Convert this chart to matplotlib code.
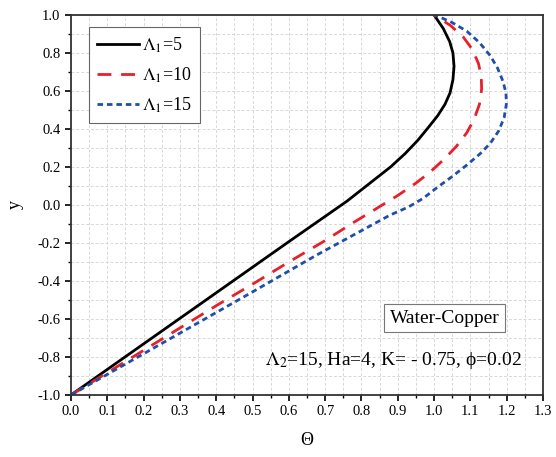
import numpy as np
import matplotlib
matplotlib.use('Agg')
import matplotlib.pyplot as plt
from matplotlib.ticker import MultipleLocator

plt.rcParams['font.family'] = ['Liberation Serif', 'DejaVu Serif']
plt.rcParams['mathtext.fontset'] = 'stix'

# curve values (Theta, y)
theta_5 = [0.0, 0.2, 0.383, 0.493, 0.6, 0.7, 0.76, 0.80, 0.84, 0.88, 0.92, 0.955,
           0.985, 1.01, 1.03, 1.044, 1.052, 1.055, 1.052, 1.043, 1.025, 1.0]
y_5 = [-1.0, -0.731, -0.485, -0.337, -0.193, -0.06, 0.02, 0.08, 0.14, 0.20, 0.27, 0.34,
       0.41, 0.47, 0.53, 0.59, 0.66, 0.73, 0.80, 0.86, 0.93, 1.0]

theta_10 = [0.0, 0.2, 0.4, 0.511, 0.6, 0.695, 0.78, 0.842, 0.90, 0.95, 0.99, 1.03,
            1.062, 1.09, 1.11, 1.125, 1.131, 1.13, 1.122, 1.105, 1.08, 1.045, 1.0]
y_10 = [-1.0, -0.765, -0.53, -0.404, -0.30, -0.193, -0.09, -0.018, 0.05, 0.115, 0.175, 0.245,
        0.31, 0.38, 0.45, 0.53, 0.61, 0.68, 0.746, 0.82, 0.885, 0.945, 1.0]

theta_15 = [0.0, 0.2, 0.493, 0.677, 0.879, 0.93, 0.97, 1.007, 1.05, 1.09, 1.127, 1.155,
            1.178, 1.193, 1.199, 1.198, 1.19, 1.175, 1.155, 1.125, 1.09, 1.05, 1.003]
y_15 = [-1.0, -0.783, -0.465, -0.263, -0.053, -0.01, 0.035, 0.09, 0.15, 0.21, 0.27, 0.325,
        0.39, 0.46, 0.53, 0.59, 0.65, 0.72, 0.785, 0.855, 0.915, 0.96, 1.0]

fig = plt.figure(figsize=(5.56, 4.57), dpi=100)
ax = fig.add_axes([0.1277, 0.1357, 0.8489, 0.8315])

ax.plot(theta_5, y_5, color='black', lw=2, label=r'$\Lambda_1$=5')
ax.plot(theta_10, y_10, color='#e8202a', lw=2, dashes=(5, 3.5), label=r'$\Lambda_1$=10')
ax.plot(theta_15, y_15, color='#1f4fa8', lw=2, dashes=(2, 1.4), label=r'$\Lambda_1$=15')

ax.set_xlim(0, 1.3)
ax.set_ylim(-1.0, 1.0)
ax.xaxis.set_major_locator(MultipleLocator(0.1))
ax.xaxis.set_minor_locator(MultipleLocator(0.05))
ax.yaxis.set_major_locator(MultipleLocator(0.2))
ax.yaxis.set_minor_locator(MultipleLocator(0.1))
ax.xaxis.set_major_formatter(plt.FuncFormatter(lambda v, p: '%.1f' % v))
ax.yaxis.set_major_formatter(plt.FuncFormatter(lambda v, p: '%.1f' % v))
ax.tick_params(which='major', direction='out', length=4, width=1.2, labelsize=10.5)
ax.tick_params(which='minor', direction='out', length=2.5, width=1)
ax.grid(which='both', color='#d8d8d8', ls=(0, (3, 2)), lw=0.7)
for s in ax.spines.values():
    s.set_linewidth(1.3)
    s.set_color('#333333')

ax.set_xlabel('Θ', fontsize=13, labelpad=10)
ax.set_ylabel('y', fontsize=13, labelpad=10)

leg = ax.legend(loc='upper left', bbox_to_anchor=(0.038, 0.968), borderaxespad=0,
                fontsize=13, fancybox=False, edgecolor='#666666', framealpha=1,
                handlelength=2.3, handletextpad=0.2, labelspacing=0.6, borderpad=0.45)
leg.get_frame().set_linewidth(0.8)

ax.text(1.029, -0.595, 'Water-Copper', fontsize=14, ha='center', va='center',
        bbox=dict(boxstyle='square,pad=0.3', fc='white', ec='#777777', lw=0.8))
ax.text(0.888, -0.82, r'$\Lambda_2$=15, Ha=4, K= - 0.75, ϕ=0.02', fontsize=14,
        ha='center', va='center')

fig.savefig('out.png', dpi=100)
